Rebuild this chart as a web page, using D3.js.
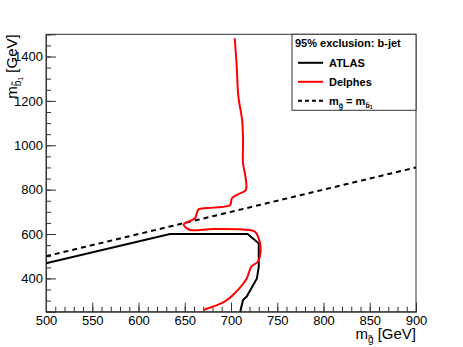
<!DOCTYPE html>
<html>
<head>
<meta charset="utf-8">
<script src="https://cdn.jsdelivr.net/npm/d3@7"></script>
<style>
  body { margin: 0; background: #fff; }
  svg { display: block; font-family: "Liberation Sans", Arial, sans-serif; }
</style>
</head>
<body>
<svg id="chart"></svg>
<script>
// Dimension constants
const WIDTH = 463;
const HEIGHT = 347;
const MARGIN = { left: 46, right: 47, top: 34.3, bottom: 35.3 };
const PLOTW = WIDTH - MARGIN.left - MARGIN.right;
const PLOTH = HEIGHT - MARGIN.top - MARGIN.bottom;

// data
const xDomain = [500, 900];
const yDomain = [250, 1500];
const xTicks = [500, 550, 600, 650, 700, 750, 800, 850, 900];
const yTicks = [400, 600, 800, 1000, 1200, 1400];

// ATLAS 95% exclusion contour (gluino mass, sbottom mass)
const atlasX = [500, 634, 718, 730, 730, 728, 717, 713, 710];
const atlasY = [468, 600, 600, 558, 453, 400, 318, 303, 250];

// Delphes 95% exclusion contour
const delphesX = [670, 693, 704, 717, 722, 729, 732, 731, 726, 720, 681, 656, 650, 649, 654, 661, 663, 665, 681, 699, 701, 708, 716, 715, 713, 713, 712, 708, 706, 704];
const delphesY = [258, 295, 333, 400, 453, 475, 520, 565, 610, 618, 623, 618, 633, 645, 656, 671, 693, 711, 719, 731, 761, 780, 798, 874, 919, 1024, 1114, 1219, 1369, 1482];

// kinematic limit m_gluino = m_sbottom
const diagX = [500, 900];
const diagY = [500, 900];

const svg = d3.select('#chart')
    .attr('width', WIDTH)
    .attr('height', HEIGHT);

const x = d3.scaleLinear().domain(xDomain).range([0, PLOTW]);
const y = d3.scaleLinear().domain(yDomain).range([PLOTH, 0]);

svg.append('defs').append('clipPath').attr('id', 'clip')
    .append('rect').attr('width', PLOTW).attr('height', PLOTH);

const plot = svg.append('g')
    .attr('transform', `translate(${MARGIN.left}, ${MARGIN.top})`);

// frame
plot.append('rect')
    .attr('width', PLOTW)
    .attr('height', PLOTH)
    .attr('fill', 'none')
    .attr('stroke', '#333')
    .attr('stroke-width', 1);

// axes with inward ticks
const xMinor = d3.range(500, 901, 10);
const yMinor = d3.range(250, 1501, 50);

plot.append('g')
    .attr('transform', `translate(0, ${PLOTH})`)
    .call(d3.axisBottom(x).tickValues(xMinor).tickSize(-5).tickFormat(''))
    .call(g => g.select('.domain').remove());
plot.append('g')
    .attr('class', 'xaxis')
    .attr('transform', `translate(0, ${PLOTH})`)
    .call(d3.axisBottom(x).tickValues(xTicks).tickSize(-9).tickFormat(d3.format('d')))
    .call(g => g.select('.domain').attr('stroke', '#333'));

plot.append('g')
    .call(d3.axisLeft(y).tickValues(yMinor).tickSize(-5).tickFormat(''))
    .call(g => g.select('.domain').remove());
plot.append('g')
    .attr('class', 'yaxis')
    .call(d3.axisLeft(y).tickValues(yTicks).tickSize(-10).tickPadding(3).tickFormat(d3.format('d')))
    .call(g => g.select('.domain').attr('stroke', '#333'));

plot.selectAll('.tick line').attr('stroke', '#333');
plot.selectAll('.xaxis .tick text')
    .attr('font-size', 13).attr('fill', '#000')
    .attr('y', 13.3).attr('dy', 0);
plot.selectAll('.yaxis .tick text').attr('font-size', 13).attr('fill', '#000');

// curves
const line = d3.line().x(d => x(d[0])).y(d => y(d[1]));
const curves = plot.append('g').attr('clip-path', 'url(#clip)');

curves.append('path')
    .datum(diagX.map((d, i) => [d, diagY[i]]))
    .attr('d', line)
    .attr('fill', 'none')
    .attr('stroke', '#000')
    .attr('stroke-width', 2)
    .attr('stroke-dasharray', '5,4');

curves.append('path')
    .datum(atlasX.map((d, i) => [d, atlasY[i]]))
    .attr('d', line)
    .attr('fill', 'none')
    .attr('stroke', '#000')
    .attr('stroke-width', 2);

curves.append('path')
    .datum(delphesX.map((d, i) => [d, delphesY[i]]))
    .attr('d', d3.line().x(d => x(d[0])).y(d => y(d[1])).curve(d3.curveCatmullRom.alpha(0.5)))
    .attr('fill', 'none')
    .attr('stroke', '#ff0000')
    .attr('stroke-width', 2);

// axis titles
const xt = svg.append('text')
    .attr('x', MARGIN.left + PLOTW)
    .attr('y', 339)
    .attr('text-anchor', 'end')
    .attr('font-size', 15);
xt.append('tspan').text('m');
xt.append('tspan').attr('font-size', 10).attr('dy', 4).text('g\u0303');
xt.append('tspan').attr('dy', -4).text(' [GeV]');

const yt = svg.append('text')
    .attr('transform', `translate(17, ${MARGIN.top}) rotate(-90)`)
    .attr('text-anchor', 'end')
    .attr('font-size', 15);
yt.append('tspan').text('m');
yt.append('tspan').attr('font-size', 10).attr('dy', 4).text('b\u0303');
yt.append('tspan').attr('font-size', 7).attr('dy', 2).text('1');
yt.append('tspan').attr('dy', -6).text(' [GeV]');

// legend
const legend = svg.append('g')
    .attr('transform', `translate(292, ${MARGIN.top})`);

legend.append('rect')
    .attr('width', MARGIN.left + PLOTW - 292)
    .attr('height', 76)
    .attr('fill', '#fff')
    .attr('stroke', '#333')
    .attr('stroke-width', 1);

legend.append('text')
    .attr('x', 3)
    .attr('y', 12.5)
    .attr('font-size', 11)
    .attr('font-weight', 'bold')
    .text('95% exclusion: b-jet');

const entries = [
    { label: 'ATLAS', color: '#000', dash: null },
    { label: 'Delphes', color: '#ff0000', dash: null },
    { label: null, color: '#000', dash: '4,3' }
];

entries.forEach((e, i) => {
    const yy = 28.5 + i * 19;
    legend.append('line')
        .attr('x1', 6).attr('x2', 31)
        .attr('y1', yy).attr('y2', yy)
        .attr('stroke', e.color)
        .attr('stroke-width', 2)
        .attr('stroke-dasharray', e.dash);
    const t = legend.append('text')
        .attr('x', 37)
        .attr('y', yy + 4)
        .attr('font-size', 11)
        .attr('font-weight', 'bold');
    if (e.label) {
        t.text(e.label);
    } else {
        t.append('tspan').text('m');
        t.append('tspan').attr('font-size', 7).attr('dy', 3).text('g\u0303');
        t.append('tspan').attr('dy', -3).text(' = m');
        t.append('tspan').attr('font-size', 7).attr('dy', 3).text('b\u0303');
        t.append('tspan').attr('font-size', 5).attr('dy', 1).text('1');
    }
});
</script>
</body>
</html>
